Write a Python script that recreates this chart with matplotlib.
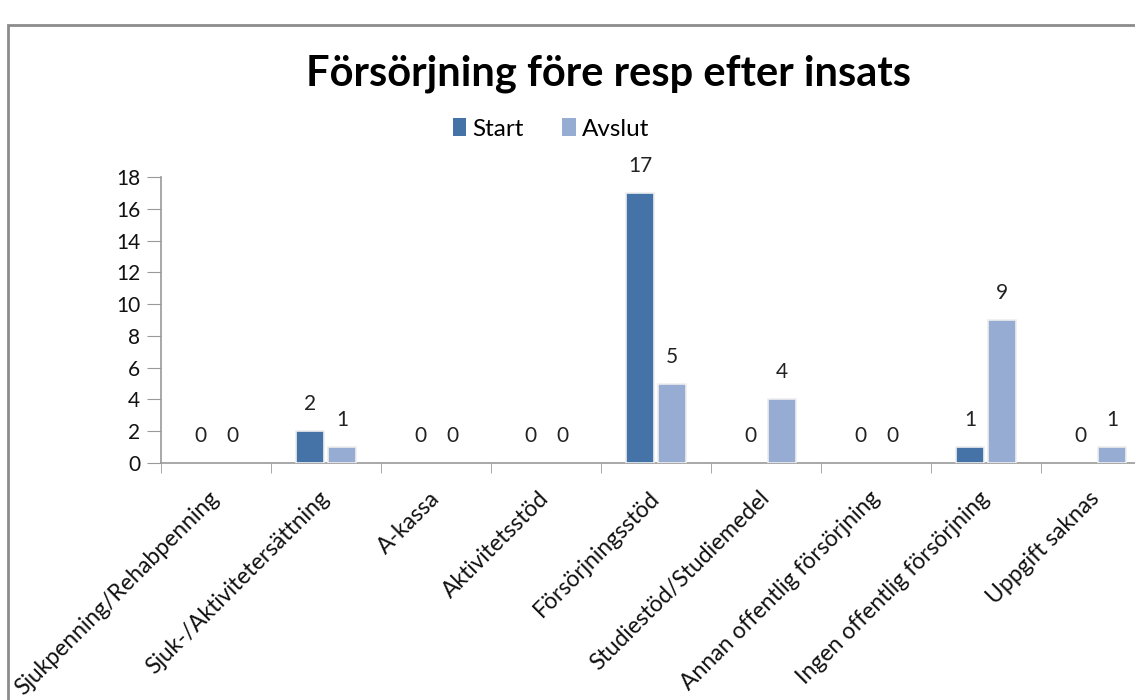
import matplotlib
matplotlib.use("Agg")
import matplotlib.pyplot as plt
from matplotlib.patches import Rectangle, Patch
import numpy as np

categories = ["Sjukpenning/Rehabpenning", "Sjuk-/Aktivitetersättning", "A-kassa",
              "Aktivitetsstöd", "Försörjningsstöd", "Studiestöd/Studiemedel",
              "Annan offentlig försörjning", "Ingen offentlig försörjning", "Uppgift saknas"]
start = [0, 2, 0, 0, 17, 0, 0, 1, 0]
avslut = [0, 1, 0, 0, 5, 4, 0, 9, 1]
yticks = [0, 2, 4, 6, 8, 10, 12, 14, 16, 18]

W, H = 1135, 700
fig = plt.figure(figsize=(W / 100, H / 100), dpi=100)
plt.rcParams['font.family'] = ['Lato', 'DejaVu Sans']

ax = fig.add_axes([161 / W, 1 - 463 / H, 990 / W, 286 / H])
x = np.arange(len(categories))
bw = 0.26
off = 0.145
c1, c2 = '#4673A7', '#97ACD2'
ax.bar(x - off, start, bw, color=c1, edgecolor='#eeeeee',
       linewidth=[1.2 if v else 0 for v in start], zorder=3)
ax.bar(x + off, avslut, bw, color=c2, edgecolor='#eeeeee',
       linewidth=[1.2 if v else 0 for v in avslut], zorder=3)

for xi, v in zip(x, start):
    ax.annotate(str(v), (xi - off, v), xytext=(0, 17), textcoords='offset pixels',
                ha='center', va='bottom', fontsize=15, color='#222222')
for xi, v in zip(x, avslut):
    ax.annotate(str(v), (xi + off, v), xytext=(0, 17), textcoords='offset pixels',
                ha='center', va='bottom', fontsize=15, color='#222222')

ax.set_xlim(-0.5, len(categories) - 0.5)
ax.set_ylim(0, 18)
ax.set_yticks(yticks)
ax.tick_params(axis='y', labelsize=15, length=10, color='#999999', pad=5, labelcolor='#111111')
ax.set_xticks(x)
ax.set_xticklabels(categories, rotation=45, ha='right', va='center',
                   rotation_mode='anchor', fontsize=16.5, color='#111111')
ax.tick_params(axis='x', which='major', length=0, pad=23)
ax.set_xticks(np.arange(len(categories)) - 0.5, minor=True)
ax.tick_params(axis='x', which='minor', length=7, color='#999999')
for s in ['top', 'right']:
    ax.spines[s].set_visible(False)
for s in ['left', 'bottom']:
    ax.spines[s].set_color('#999999')
    ax.spines[s].set_linewidth(1.2)

fig.text(608 / W, 1 - 74 / H, "Försörjning före resp efter insats", ha='center', va='center',
         fontsize=30, fontweight='bold', color='black')

handles = [Patch(facecolor=c1), Patch(facecolor=c2)]
fig.legend(handles, ['Start', 'Avslut'], loc='center', bbox_to_anchor=(551 / W, 1 - 129 / H),
           ncol=2, frameon=False, fontsize=17.5, handlelength=0.55, handleheight=0.7,
           handletextpad=0.25, columnspacing=1.6)

fig.add_artist(Rectangle((8 / W, -0.1), 1.2, 1 - 25 / H + 0.1, transform=fig.transFigure,
                         fill=False, edgecolor='#8c8c8c', linewidth=2))

fig.savefig('out.png', dpi=100)
